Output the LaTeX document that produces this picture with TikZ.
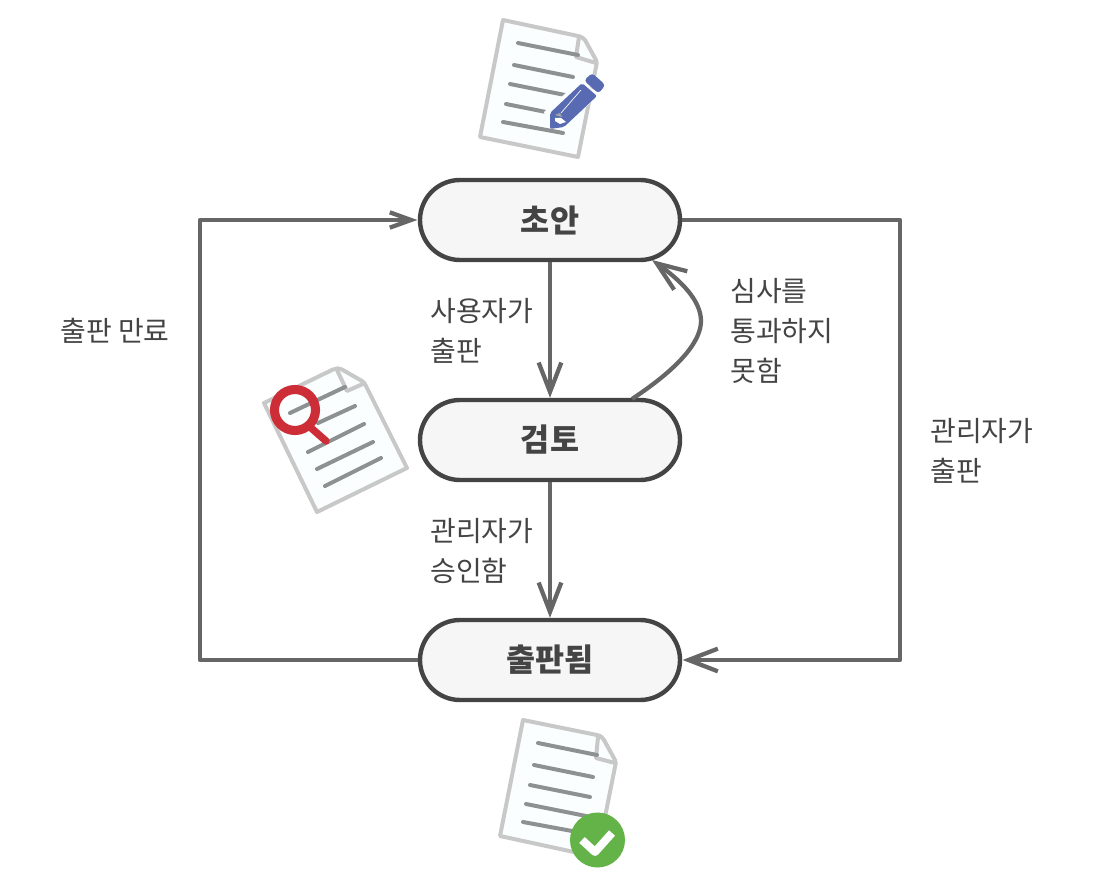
\documentclass[tikz,border=0pt]{standalone}
\usepackage{fontspec}
\setmainfont{Noto Sans CJK KR}
\usetikzlibrary{arrows.meta}
\definecolor{ink}{HTML}{444444}
\definecolor{linec}{HTML}{666666}
\definecolor{fillc}{HTML}{F6F6F6}
\definecolor{paper}{HTML}{FBFEFE}
\definecolor{paperline}{HTML}{C8C8C8}
\definecolor{textline}{HTML}{8E9192}
\definecolor{penc}{RGB}{88,107,178}
\definecolor{lensc}{RGB}{205,45,55}
\definecolor{okc}{RGB}{99,179,73}
\tikzset{
  x=0.75pt,y=-0.75pt,
  state/.style={draw=ink,fill=fillc,line width=3.3pt,rounded corners=30pt,minimum width=195pt,minimum height=60pt,inner sep=0pt,font=\fontsize{23.7pt}{27pt}\selectfont\bfseries,text=ink},
  lab/.style={font=\fontsize{21pt}{30pt}\selectfont,text=ink,align=left,anchor=north west,inner sep=0pt},
  conn/.style={draw=linec,line width=3.2pt},
  barbv/.style={-{Straight Barb[length=22pt,width=17pt,line width=3.2pt]}},
  barbh/.style={-{Straight Barb[length=16pt,width=11.5pt,line width=3.2pt]}},
  docedge/.style={draw=paperline,line width=3pt,line join=round,fill=paper},
  foldedge/.style={draw=paperline,line width=3pt,line join=round},
  txtline/.style={draw=textline,line width=3pt,line cap=round},
}
\begin{document}
\begin{tikzpicture}
\useasboundingbox (0,0) rectangle (1100,880);
\node[state] (draft) at (550,220) {\raisebox{-0.7pt}{초안}};
\node[state] (review) at (550,440) {\raisebox{-0.7pt}{검토}};
\node[state] (pub) at (550,660) {\raisebox{-0.7pt}{출판됨}};
\coordinate (reviewtop) at (632,399);
\coordinate (drafttip) at (652,260);
\coordinate (lt) at (200,220);
\coordinate (lb) at (200,660);
\coordinate (rt) at (900,220);
\coordinate (rb) at (900,660);
\draw[conn,barbv] (draft.south) -- (review.north);
\draw[conn,barbv] (review.south) -- (pub.north);
\draw[conn,barbh,line join=round] (pub.west) -- (lb) -- (lt) -- ([xshift=-0.3pt]draft.west);
\draw[conn,barbv,line join=round] (draft.east) -- (rt) -- (rb) -- ([xshift=0.3pt]pub.east);
\draw[conn,barbv] (reviewtop) .. controls (682,366) and (701,340) .. (701,321) .. controls (701,300) and (680,280) .. (drafttip);
\node[lab] (l1) at (430,298) {사용자가\\출판};
\node[lab] (l2) at (430,518) {관리자가\\승인함};
\node[lab] (l3) at (730,278) {심사를\\통과하지\\못함};
\node[lab] (l4) at (930,418) {관리자가\\출판};
\node[lab] (l5) at (60,318) {출판 만료};
% draft document
\draw[docedge] (503,20) -- (578,36) .. controls (582,37) and (583,38) .. (585,40) -- (596,60) .. controls (597,62) and (597,64) .. (596,67) -- (578,157) -- (480,137) -- cycle;
\draw[foldedge] (579,37) -- (576,57) -- (596,63);
\foreach \a/\b/\c/\d in {518/43/578/55, 514/65/573/77, 510/84/570/96, 506/104/566/116, 503/122/563/133}
  \draw[txtline] (\a,\b) -- (\c,\d);
\fill[paper] (544,112) -- (582,79) -- (598,95) -- (566,127) -- (548,127) -- cycle;
\fill[penc,rounded corners=1.5pt] (550,113) -- (582,83) -- (597,96) -- (564,127) -- (550,129) -- cycle;
\fill[penc,rounded corners=2.5pt] (584,80.5) -- (592,73) -- (605.5,85) -- (598.5,93.5) -- cycle;
\draw[white,line width=0.5pt] (561,113) -- (581,90);
\fill[gray!70] (555,115) -- (560,113) -- (562,117) -- cycle;
\fill[white] (555,118) -- (561,118) -- (566,122) -- (560,124) -- (555,121) -- cycle;
% review document
\draw[docedge] (264,403) -- (333,369.5) .. controls (336,368) and (339,368) .. (342,369.5) -- (362,381) .. controls (364,382) and (365,384) .. (366,386) -- (407,468) -- (317,512) -- cycle;
\draw[foldedge] (337,370) -- (347,391) -- (365,383);
\foreach \a/\b/\c/\d in {290/413/345/387, 318/423/355/406, 308/452/364/424, 317/469/373/442, 325/486/381/458}
  \draw[txtline] (\a,\b) -- (\c,\d);
\draw[lensc,line width=6.8pt] (295,410) circle[radius=20.5];
\draw[lensc,line width=5.5pt,line cap=round] (310,427) -- (326,441);
% published document
\draw[docedge] (523,720) -- (597,735) .. controls (601,736) and (602,737) .. (604,740) -- (615,760) .. controls (616,762) and (616,764) .. (615,767) -- (597,857) -- (500,836) -- cycle;
\draw[foldedge] (598,737) -- (596,758) -- (615,763);
\foreach \a/\b/\c/\d in {538/743/597/755, 534/765/593/777, 530/785/590/797, 526/804/586/816, 523/822/583/833}
  \draw[txtline] (\a,\b) -- (\c,\d);
\fill[okc] (597.5,840) circle[radius=27.5];
\draw[white,line width=6pt,line join=round] (582,840) -- (595,852) -- (612,833);
\end{tikzpicture}
\end{document}
